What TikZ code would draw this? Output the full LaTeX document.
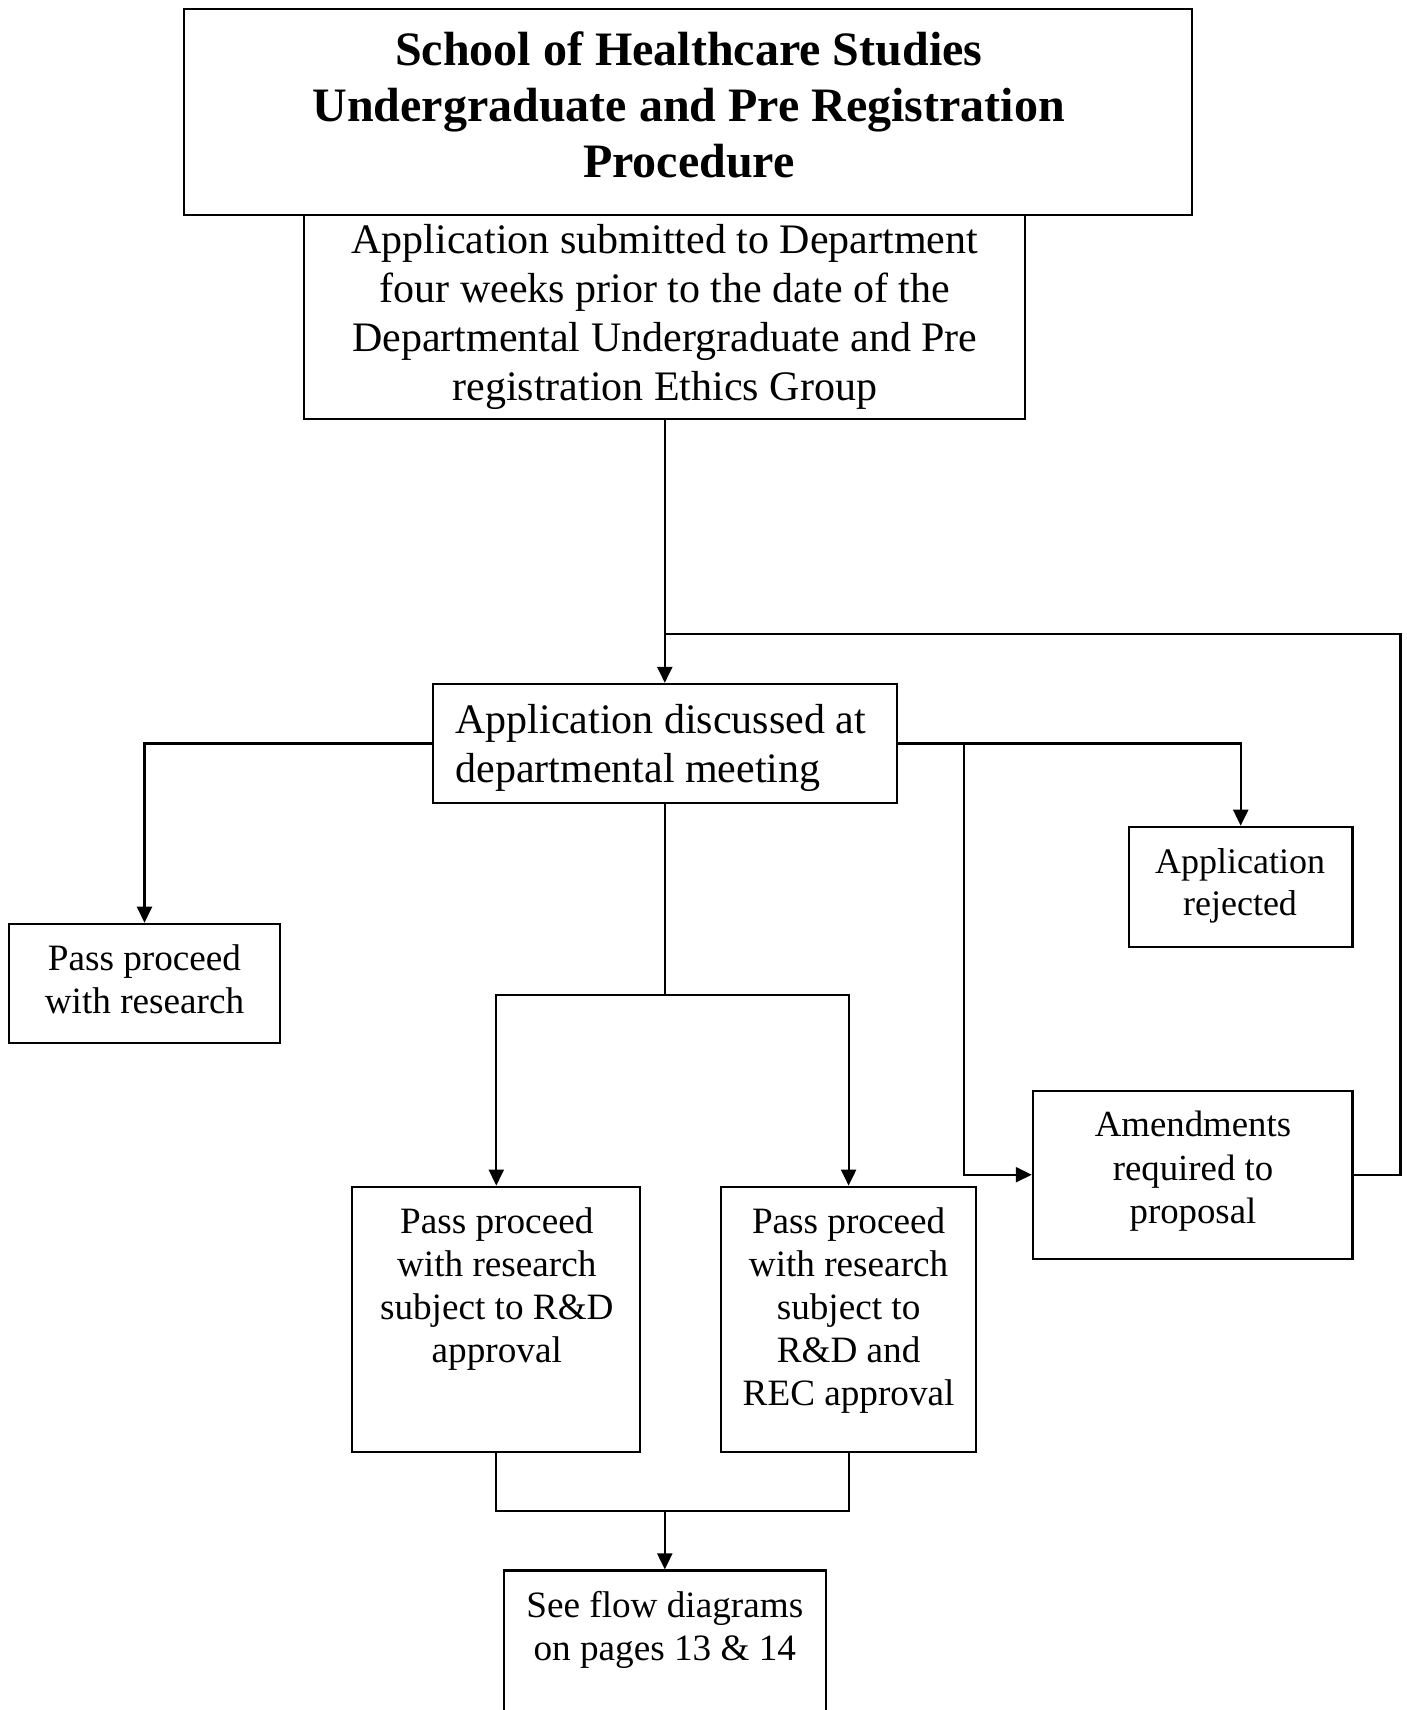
\documentclass[tikz,border=0pt]{standalone}
\usepackage{fontspec}
\setmainfont{Liberation Serif}
\usetikzlibrary{arrows.meta}

\begin{document}
\begin{tikzpicture}[x=0.5pt,y=-0.5pt,
  box/.style={draw, rectangle, line width=1.1pt, inner sep=0pt},
  txt/.style={inner sep=0pt, align=center},
  headfont/.style={font=\fontsize{24}{28}\selectfont\bfseries},
  bigfont/.style={font=\fontsize{21}{24.5}\selectfont},
  smallfont/.style={font=\fontsize{18.6}{21.6}\selectfont},
  link/.style={line width=1.1pt},
  arrowlink/.style={line width=1.1pt, -{Triangle[length=8pt,width=7.5pt]}}]

\useasboundingbox (0,0) rectangle (1407,1710);
\clip (0,0) rectangle (1407,1710);

% boxes
\node[box, minimum width=503.9pt, minimum height=103.1pt] (title) at (688.2,111.8) {};
\node[box, minimum width=360.5pt, minimum height=102pt] (app) at (664.8,316.9) {};
\node[box, minimum width=231.8pt, minimum height=59.5pt] (disc) at (664.8,743.4) {};
\node[box, minimum width=135.8pt, minimum height=59.5pt] (pass) at (144.5,983.3) {};
\node[box, minimum width=111.8pt, minimum height=60pt] (rej) at (1240.7,886.8) {};
\node[box, minimum width=159.8pt, minimum height=84pt] (amend) at (1192.7,1174.7) {};
\node[box, minimum width=144pt, minimum height=132.5pt] (rd) at (496.3,1319.2) {};
\node[box, minimum width=127.6pt, minimum height=132.5pt] (rdrec) at (848.6,1319.2) {};
\node[box, minimum width=160.9pt, minimum height=94.5pt] (see) at (664.8,1665) {};

% texts
\node[txt, headfont] (titletext) at (688.8,104.5) {School of Healthcare Studies\\Undergraduate and Pre Registration\\Procedure};
\node[txt, bigfont] (apptext) at (664.8,316.5) {Application submitted to Department\\four weeks prior to the date of the\\Departmental Undergraduate and Pre\\registration Ethics Group};
\node[txt, bigfont, align=left, anchor=west] (disctext) at (455,747.5) {Application discussed at\\departmental meeting};
\node[txt, smallfont] (passtext) at (144.5,979.5) {Pass proceed\\with research};
\node[txt, font=\fontsize{18}{20.8}\selectfont] (rejtext) at (1240,885.6) {Application\\rejected};
\node[txt, font=\fontsize{18.4}{21.8}\selectfont] (amendtext) at (1193,1171.3) {Amendments\\required to\\proposal};
\node[txt, smallfont] (rdtext) at (496.8,1288.9) {Pass proceed\\with research\\subject to R\&D\\approval};
\node[txt, smallfont] (rdrectext) at (848.6,1310.5) {Pass proceed\\with research\\subject to\\R\&D and\\REC approval};
\node[txt, smallfont] (seetext) at (664.8,1629.5) {See flow diagrams\\on pages 13 \& 14};

% junction points
\coordinate (ret) at (1400.5,633.7);
\coordinate (join) at (app.south |- ret);
\coordinate (split) at (964,744);
\coordinate (mid) at (664.8,994.7);
\coordinate (merge) at (664.8,1510.6);

% connectors
\draw[arrowlink] (app.south) -- (disc.north);
\draw[link] (amend.east) -| (ret) -- (join);
\draw[arrowlink] (disc.west) -| (pass.north);
\draw[arrowlink] (disc.east) -| (rej.north);
\draw[arrowlink] (split) |- (amend.west);
\draw[link] (disc.south) -- (mid);
\draw[arrowlink] (mid) -| (rd.north);
\draw[arrowlink] (mid) -| (rdrec.north);
\draw[link] (rd.south) |- (merge) -| (rdrec.south);
\draw[arrowlink] (merge) -- (see.north);
\end{tikzpicture}
\end{document}
